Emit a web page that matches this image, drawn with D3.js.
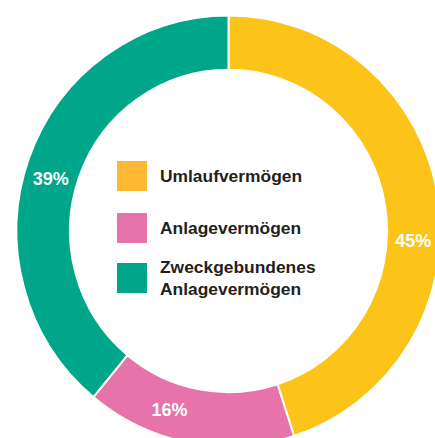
<!DOCTYPE html>
<html>
<head>
<meta charset="utf-8">
<script src="https://cdn.jsdelivr.net/npm/d3@7"></script>
<style>
  html, body { margin: 0; padding: 0; background: #fff; }
  svg { display: block; }
</style>
</head>
<body>
<div id="chart"></div>
<script>
// chart data
const categories = ["Umlaufvermögen", "Anlagevermögen", "Zweckgebundenes Anlagevermögen"];
const legend_lines = [["Umlaufvermögen"], ["Anlagevermögen"], ["Zweckgebundenes", "Anlagevermögen"]];
const shares = [45, 16, 39];
const ring_colors = ["#fcc419", "#e673aa", "#00a68a"];
const swatch_colors = ["#fdb934", "#e673aa", "#00a68a"];

function PlotDonut(parent_element) {
  const width = 435;
  const height = 438;
  const cx = 228.5, cy = 231;
  const outer = 212, inner = 158.5;
  const squash = 1.017; // the original ring is a touch taller than wide

  const svg = d3.select("#" + parent_element)
    .append("svg")
      .attr("width", width)
      .attr("height", height);

  const data = categories.map((c, i) => ({name: c, value: shares[i], i: i}));

  const pie = d3.pie()
    .sort(null)
    .value(d => d.value);

  const arc = d3.arc()
    .innerRadius(inner)
    .outerRadius(outer);

  const arcs = pie(data);

  svg.append("g")
      .attr("transform", `translate(${cx},${cy}) scale(1,${squash})`)
    .selectAll("path")
    .data(arcs)
    .enter()
    .append("path")
      .attr("d", arc)
      .attr("fill", d => ring_colors[d.data.i])
      .attr("stroke", "#fff")
      .attr("stroke-width", 2);

  // labels sit a bit off the slice middle, like in the original
  const labelAt = [0.573, 0.635, 0.474];
  const labelR = 185;
  const ang = d => d.startAngle + (d.endAngle - d.startAngle) * labelAt[d.data.i];
  svg.append("g")
      .attr("transform", `translate(${cx},${cy})`)
    .selectAll("text")
    .data(arcs)
    .enter()
    .append("text")
      .attr("x", d => labelR * Math.sin(ang(d)))
      .attr("y", d => -labelR * squash * Math.cos(ang(d)))
      .attr("dy", "0.35em")
      .attr("text-anchor", "middle")
      .style("font-family", "'Liberation Sans', Arial, sans-serif")
      .style("font-weight", "bold")
      .style("font-size", "18px")
      .style("fill", "#fff")
      .text(d => d.data.value + "%");

  // legend
  const legend_y = [176, 228, 278];
  const item = svg.append("g")
    .selectAll("g")
    .data(data)
    .enter()
    .append("g")
      .attr("transform", d => `translate(117,${legend_y[d.i]})`);

  item.append("rect")
      .attr("x", 0)
      .attr("y", -15)
      .attr("width", 30)
      .attr("height", 30)
      .attr("fill", d => swatch_colors[d.i]);

  item.append("text")
      .style("font-family", "'Liberation Sans', Arial, sans-serif")
      .style("font-weight", "bold")
      .style("font-size", "17.4px")
      .style("fill", "#231f20")
    .selectAll("tspan")
    .data(d => legend_lines[d.i].map((t, k, all) => ({t: t, k: k, n: all.length})))
    .enter()
    .append("tspan")
      .attr("x", 43)
      .attr("y", d => 6 + (d.k - (d.n - 1) / 2) * 22)
      .text(d => d.t);
}

document.addEventListener('DOMContentLoaded', (event) => {
  PlotDonut("chart");
});
</script>
</body>
</html>
